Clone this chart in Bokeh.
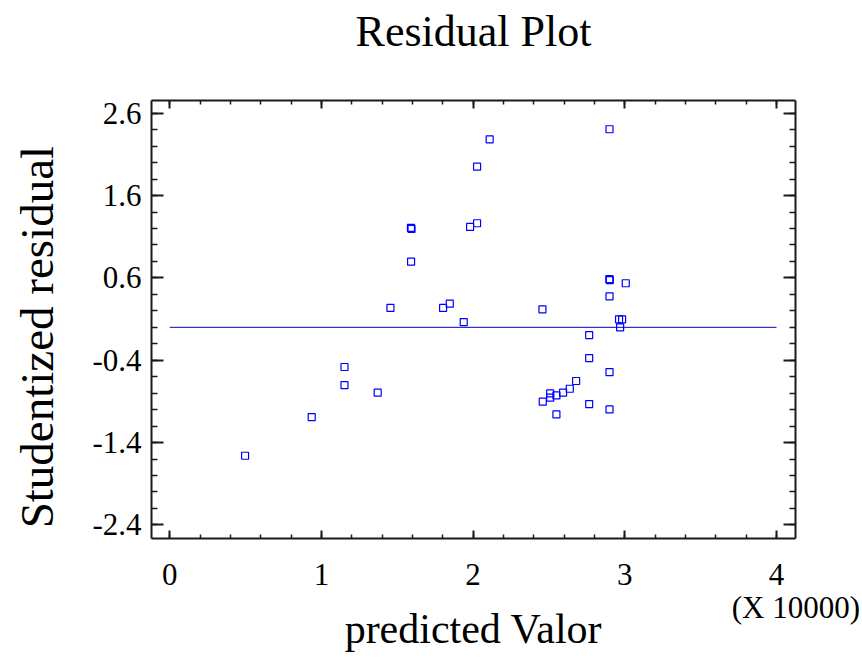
import math
from bokeh.plotting import figure
from bokeh.models import (Range1d, LinearAxis, FixedTicker, ColumnDataSource)
from bokeh.embed import file_html
from bokeh.resources import INLINE

# ---- data (predicted value in units of 10000, studentized residual) ----
predicted_x10000 = [0.497, 0.936, 1.152, 1.152, 1.371, 1.455, 1.590, 1.594, 1.591,
                    1.802, 1.846, 1.938, 1.980, 2.026, 2.026, 2.109, 2.457, 2.459,
                    2.508, 2.508, 2.549, 2.549, 2.593, 2.637, 2.679, 2.765, 2.765,
                    2.765, 2.899, 2.898, 2.901, 2.899, 2.899, 2.899, 2.962, 2.982,
                    2.969, 3.006]
studentized_residual = [-1.560, -1.090, -0.482, -0.701, -0.794, 0.235, 1.208, 1.196, 0.797,
                        0.235, 0.287, 0.064, 1.219, 1.264, 1.951, 2.284, 0.219, -0.903,
                        -0.803, -0.855, -0.827, -1.058, -0.794, -0.746, -0.652, -0.094, -0.373,
                        -0.932, 2.406, 0.586, 0.574, 0.376, -0.543, -0.997, 0.097, 0.097,
                        0.000, 0.535]

ref_x = [0, 4]
ref_y = [0, 0]

x_major = [0, 1, 2, 3, 4]
x_minor = [round(0.2 * i, 1) for i in range(0, 21)]
y_major = [2.6, 1.6, 0.6, -0.4, -1.4, -2.4]
y_minor = [round(-2.4 + 0.2 * i, 1) for i in range(0, 26)]
y_tick_labels = {2.6: "2.6", 1.6: "1.6", 0.6: "0.6", -0.4: "-0.4", -1.4: "-1.4", -2.4: "-2.4"}
x_tick_labels = {0: "0", 1: "1", 2: "2", 3: "3", 4: "4\n\u00a0\u00a0\u00a0\u00a0\u00a0(X 10000)"}

TITLE = "Residual Plot"
X_LABEL = "predicted Valor"
Y_LABEL = "Studentized residual\u00a0\u00a0\u00a0"

FONT = "Liberation Serif"

p = figure(width=862, height=660, output_backend="svg", toolbar_location=None,
           x_range=Range1d(-0.12, 4.125), y_range=Range1d(-2.565, 2.755),
           x_axis_location=None, y_axis_location=None,
           min_border_left=151, min_border_right=67, min_border_top=100, min_border_bottom=122)
p.background_fill_color = "white"
p.border_fill_color = "white"
p.outline_line_color = None
p.xgrid.visible = False
p.ygrid.visible = False


def style_axis(ax, ticks, minor, major_in, minor_in, labels=None):
    ax.ticker = FixedTicker(ticks=ticks, minor_ticks=minor)
    ax.axis_line_color = "#1a1a1a"
    ax.axis_line_width = 2
    ax.major_tick_line_color = "#1a1a1a"
    ax.major_tick_line_width = 2
    ax.minor_tick_line_color = "#1a1a1a"
    ax.minor_tick_line_width = 1.5
    ax.major_tick_in = major_in
    ax.major_tick_out = 0
    ax.minor_tick_in = minor_in
    ax.minor_tick_out = 0
    if labels is None:
        ax.major_label_text_color = None
        ax.major_label_text_font_size = "1px"
        ax.major_label_standoff = 0
    else:
        ax.major_label_overrides = labels
        ax.major_label_text_font = FONT
        ax.major_label_text_font_size = "31px"
        ax.major_label_text_color = "black"


def style_label(ax, size, standoff):
    ax.axis_label_text_font = FONT
    ax.axis_label_text_font_size = size
    ax.axis_label_text_font_style = "normal"
    ax.axis_label_text_color = "black"
    ax.axis_label_standoff = standoff


bottom = LinearAxis(axis_label=X_LABEL)
style_axis(bottom, x_major, x_minor, 8, 4, x_tick_labels)
bottom.major_label_standoff = 18
bottom.major_label_text_line_height = 0.95
style_label(bottom, "42px", -22)
p.add_layout(bottom, "below")

# top axis carries the chart title as its label
top = LinearAxis(axis_label=TITLE)
style_axis(top, x_major, x_minor, 8, 4)
style_label(top, "44px", 45)
p.add_layout(top, "above")

left = LinearAxis(axis_label=Y_LABEL)
style_axis(left, y_major, y_minor, 12, 6, y_tick_labels)
left.major_label_standoff = 10
style_label(left, "47px", 26)
p.add_layout(left, "left")

right = LinearAxis()
style_axis(right, y_major, y_minor, 12, 6)
p.add_layout(right, "right")

# zero reference line
p.line(ref_x, ref_y, line_color="#0000CC", line_width=1)

src = ColumnDataSource(dict(x=predicted_x10000, y=studentized_residual))
p.scatter("x", "y", source=src, marker="square", size=7, fill_color=None,
          line_color="#0000FF", line_width=1.2)

open("out.html", "w").write(file_html(p, INLINE))
